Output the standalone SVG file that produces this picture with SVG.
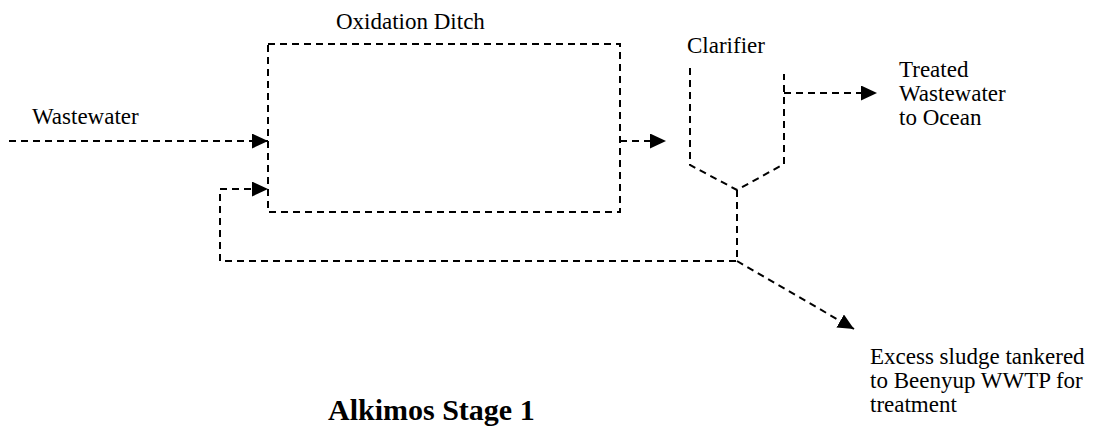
<svg xmlns="http://www.w3.org/2000/svg" width="1096" height="426" viewBox="0 0 1096 426">
<style>
.d{fill:none;stroke:#000;stroke-width:2;stroke-dasharray:7 5}
text{font-family:'Liberation Serif','DejaVu Serif',serif;fill:#000}
.t{font-size:23px}
.b{font-size:30px;font-weight:bold}
</style>
<defs>
<marker id="ah" markerUnits="userSpaceOnUse" markerWidth="16" markerHeight="15" refX="16" refY="7.5" orient="auto" viewBox="0 0 16 15">
<path d="M0,0 L16,7.5 L0,15 z" fill="#000"/>
</marker>
</defs>
<rect width="1096" height="426" fill="#fff"/>
<g id="ditch">
<rect class="d" x="268" y="44" width="352" height="168"/>
<text class="t" x="336" y="29" font-family="Liberation Serif, serif">Oxidation Ditch</text>
</g>
<g id="clarifier">
<polyline class="d" points="690,68 690,165 737,190 784,164 784,74"/>
<text class="t" x="687" y="53" font-family="Liberation Serif, serif">Clarifier</text>
</g>
<g id="wastewater">
<text class="t" x="32" y="124" font-family="Liberation Serif, serif">Wastewater</text>
</g>
<g id="treated">
<text class="t" x="899" y="77" font-family="Liberation Serif, serif">Treated</text>
<text class="t" x="899" y="101" font-family="Liberation Serif, serif">Wastewater</text>
<text class="t" x="899" y="125" font-family="Liberation Serif, serif">to Ocean</text>
</g>
<g id="sludge">
<text class="t" x="870" y="364" font-family="Liberation Serif, serif">Excess sludge tankered</text>
<text class="t" x="870" y="388" font-family="Liberation Serif, serif">to Beenyup WWTP for</text>
<text class="t" x="870" y="412" font-family="Liberation Serif, serif">treatment</text>
</g>
<g id="title">
<text class="b" x="328" y="420" font-family="Liberation Serif, serif">Alkimos Stage 1</text>
</g>
<g id="connectors">
<line class="d" x1="9" y1="141" x2="268" y2="141" marker-end="url(#ah)"/>
<line class="d" x1="620" y1="141" x2="666" y2="141" marker-end="url(#ah)"/>
<line class="d" x1="784" y1="93" x2="877" y2="93" marker-end="url(#ah)"/>
<polyline class="d" points="737,190 737,261 220,261 220,189 268,189" marker-end="url(#ah)"/>
<line class="d" x1="737" y1="261" x2="854" y2="329" marker-end="url(#ah)"/>
</g>
</svg>
